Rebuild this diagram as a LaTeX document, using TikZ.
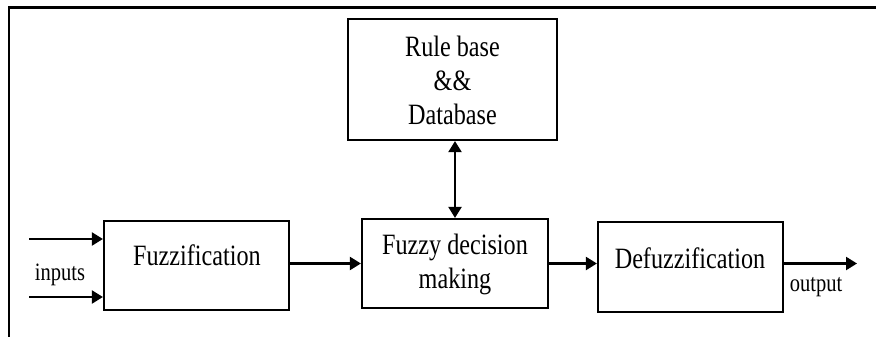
\documentclass[tikz,border=0pt]{standalone}
\usepackage{fontspec}
\setmainfont{Liberation Serif}[FakeStretch=0.82]
\usetikzlibrary{arrows.meta}
\begin{document}
\begin{tikzpicture}[x=1pt,y=-1pt,line width=2.2pt,
  blk/.style={draw,inner sep=0pt},
  txt/.style={inner sep=0pt,align=center,font=\fontsize{29.5}{34}\selectfont},
  lbl/.style={inner sep=0pt,font=\fontsize{25}{30}\selectfont},
  arr/.style={-{Triangle[length=11pt,width=13pt]}},
  darr/.style={{Triangle[length=11pt,width=13pt]}-{Triangle[length=11pt,width=13pt]}}]
\useasboundingbox (0,0) rectangle (876,337);
\coordinate (fl) at (9,337);
\coordinate (fc) at (9,7.5);
\coordinate (fr) at (876,7.5);
\draw (fl) -- (fc) -- (fr);
% boxes
\node[blk,minimum width=185pt,minimum height=89pt] (fuz) at (196.5,265.5) {};
\node[blk,minimum width=209pt,minimum height=121pt] (rule) at (452.5,79.5) {};
\node[blk,minimum width=186pt,minimum height=89pt] (fdm) at (455,263.5) {};
\node[blk,minimum width=185pt,minimum height=90pt] (def) at (690.5,267) {};
% texts
\node[txt] (tfuz) at (197,255) {Fuzzification};
\node[txt] (trule) at (452.5,80) {Rule base\\\&\&\\Database};
\node[txt] (tfdm) at (455,264.5) {Fuzzy decision\\making};
\node[txt] (tdef) at (690,258) {Defuzzification};
\node[lbl,anchor=base] (tin) at (60,280) {inputs};
\node[lbl,anchor=base] (tout) at (816,291) {output};
% connectors
\coordinate (in1) at (29,239);
\coordinate (in2) at (29,297);
\draw[arr] (in1) -- (in1 -| fuz.west);
\draw[arr] (in2) -- (in2 -| fuz.west);
\draw[arr] (fdm.west -| fuz.east) -- (fdm.west);
\draw[arr] (fdm.east) -- (fdm.east -| def.west);
\coordinate (out) at (857,263.5);
\draw[arr] (out -| def.east) -- (out);
\draw[darr] (fdm.north |- rule.south) -- (fdm.north);
\end{tikzpicture}
\end{document}
